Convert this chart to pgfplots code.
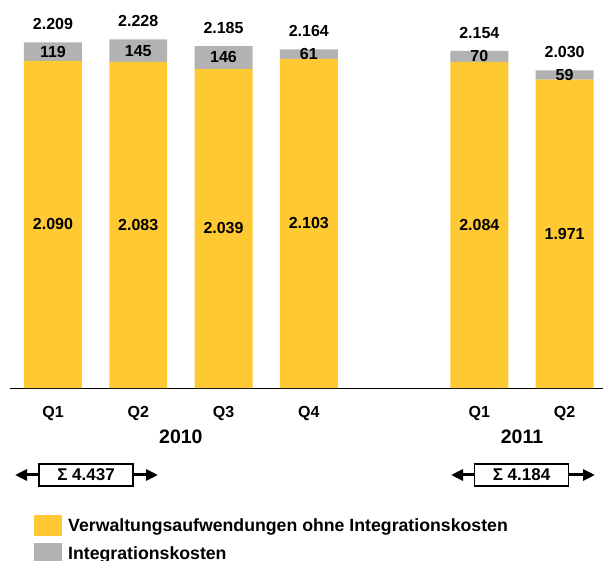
\documentclass[border=0pt]{standalone}
\usepackage{pgfplots}
\pgfplotsset{compat=1.18}
\usepackage{fontspec}
\setmainfont{Liberation Sans}
\usetikzlibrary{arrows.meta}
\definecolor{yel}{RGB}{255,201,51}
\definecolor{gry}{RGB}{178,178,178}
\newcommand{\lblfont}{\bfseries\fontsize{16}{18}\selectfont}
\newcommand{\yrfont}{\bfseries\fontsize{19.5}{23}\selectfont}
\begin{document}
\begin{tikzpicture}
\useasboundingbox (0,0) rectangle (603pt,-561pt);
\pgfplotsset{base/.style={scale only axis, width=593pt, height=388pt,
  xmin=-0.504, xmax=6.45, ymin=0, ymax=2479, at={(10pt,-388pt)}, anchor=south west}}
% bars
\begin{axis}[base, ybar stacked, bar width=0.68,
  axis x line=bottom, axis y line=none, x axis line style={-, line width=0.8pt},
  xtick={0,1,2,3,5,6}, xticklabels={Q1,Q2,Q3,Q4,Q1,Q2}, major tick length=0pt,
  xticklabel style={font=\lblfont, anchor=center, yshift=-25pt},
  extra x ticks={1.5,5.5}, extra x tick labels={\yrfont 2010,\yrfont 2011},
  extra x tick style={tick label style={yshift=-24pt}},
  legend style={at={(axis description cs:0.0405,-0.327)}, anchor=north west, draw=none, fill=none,
    inner sep=0pt, font=\bfseries\fontsize{17.7}{21}\selectfont, row sep=7pt,
    nodes={inner sep=2pt}, /tikz/every odd column/.append style={column sep=4pt}},
  legend cell align=left,
  legend image code/.code={\draw[#1, draw=none] (0pt,-10.5pt) rectangle (28pt,10.5pt);}]
\addplot[fill=yel, draw=none] coordinates {(0,2090) (1,2083) (2,2039) (3,2103) (5,2084) (6,1971)};
\addlegendentry{Verwaltungsaufwendungen ohne Integrationskosten}
\addplot[fill=gry, draw=none] coordinates {(0,119) (1,145) (2,146) (3,61) (5,70) (6,59)};
\addlegendentry{Integrationskosten}
\end{axis}
% value labels
\begin{axis}[base, hide axis, nodes near coords, point meta=explicit symbolic,
  every node near coord/.append style={anchor=center, font=\lblfont, text=black}]
\addplot[draw=none, no marks] coordinates {(0,1045)[2.090] (1,1041.5)[2.083] (2,1019.5)[2.039] (3,1051.5)[2.103] (5,1042)[2.084] (6,985.5)[1.971]};
\addplot[draw=none, no marks] coordinates {(0,2149.5)[119] (1,2155.5)[145] (2,2112)[146] (3,2133.5)[61] (5,2119)[70] (6,2000.5)[59]};
\addplot[draw=none, no marks, every node near coord/.append style={yshift=18pt}]
  coordinates {(0,2209)[2.209] (1,2228)[2.228] (2,2185)[2.185] (3,2164)[2.164] (5,2154)[2.154] (6,2030)[2.030]};
\end{axis}
% sum brackets
\tikzset{sumarrow/.style={line width=3pt, {Triangle[length=12pt,width=11pt]}-{Triangle[length=12pt,width=11pt]}},
  sumbox/.style={draw, line width=1.2pt, fill=white, minimum width=94pt, minimum height=22pt,
    inner sep=0pt, font=\bfseries\fontsize{17}{19}\selectfont}}
\draw[sumarrow] (15pt,-475pt) -- (158pt,-475pt);
\node[sumbox] at (86pt,-475pt) {Σ 4.437};
\draw[sumarrow] (451pt,-475pt) -- (595pt,-475pt);
\node[sumbox] at (521.5pt,-475pt) {Σ 4.184};
\end{tikzpicture}
\end{document}
